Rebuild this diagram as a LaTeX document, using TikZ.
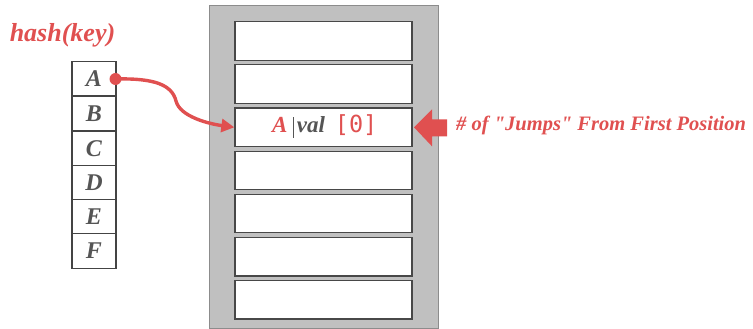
\documentclass[tikz,border=0pt]{standalone}
\usepackage{fontspec}
\setmainfont{Liberation Serif}[Ligatures=TeXOff]
\newfontfamily\monofont{DejaVu Sans Mono}
\usetikzlibrary{arrows.meta}
\definecolor{hred}{RGB}{224,80,80}
\definecolor{hgray}{RGB}{85,85,85}
\definecolor{tablefill}{RGB}{192,192,192}
\definecolor{tableedge}{RGB}{140,140,140}
\begin{document}
\begin{tikzpicture}[x=1pt,y=-1pt,
  slot/.style={draw=hgray!85!black,line width=1.3pt,fill=white,minimum width=177pt,minimum height=38.5pt,inner sep=0pt},
  keycell/.style={draw=hgray!80!black,line width=1.3pt,fill=white,minimum width=44pt,minimum height=34.5pt,inner sep=0pt,font=\fontsize{24}{24}\selectfont\bfseries\itshape,text=hgray},
  redlab/.style={text=hred,font=\bfseries\itshape}]
\useasboundingbox (0,0) rectangle (753,329);
\node[draw=tableedge,fill=tablefill,line width=1.2pt,minimum width=229pt,minimum height=323pt,inner sep=0pt,anchor=north west] (table) at (209,5) {};
\foreach \i/\y in {1/41,2/84,3/127.3,4/170.5,5/213.5,6/256.8,7/299.8}{
  \node[slot] (s\i) at (323.5,\y) {};
}
\node[font=\fontsize{23}{23}\selectfont,anchor=base west,inner sep=0pt] (content) at (272,132.3) {\textcolor{hred}{\bfseries\itshape A}\hspace{5pt}\textcolor{hgray}{\rule[-5.5pt]{1.8pt}{20.5pt}\hspace{2.5pt}\bfseries\itshape val}\hspace{10pt}\textcolor{hred}{\monofont\fontsize{23.5}{23.5}\selectfont[0]}};
\foreach \i/\l/\y in {1/A/78.5,2/B/113.5,3/C/148.3,4/D/182.8,5/E/217,6/F/251}{
  \node[keycell] (k\i) at (94,\y) {\l};
}
\node[redlab,font=\fontsize{26}{26}\selectfont\bfseries\itshape,anchor=base,inner sep=0pt] (hash) at (62.5,41.5) {hash(key)};
\coordinate (dot) at (115.5,79);
\fill[hred] (dot) circle (6pt);
\draw[hred,line width=3.4pt,-{Triangle[length=13pt,width=13pt]}] (dot) .. controls (155,78) and (172,85) .. (176,101) .. controls (180,117) and (210,124) .. (s3.west);
\coordinate (tip) at (414,127.3);
\fill[hred] (tip) -- ++(18,-18) -- ++(0,10) -- ++(15,0) -- ++(0,17) -- ++(-15,0) -- ++(0,10) -- cycle;
\node[redlab,font=\fontsize{20.5}{20.5}\selectfont\bfseries\itshape,anchor=base west,inner sep=0pt] (jumplab) at (456,130) {\# of "Jumps" From First Position};
\end{tikzpicture}
\end{document}
